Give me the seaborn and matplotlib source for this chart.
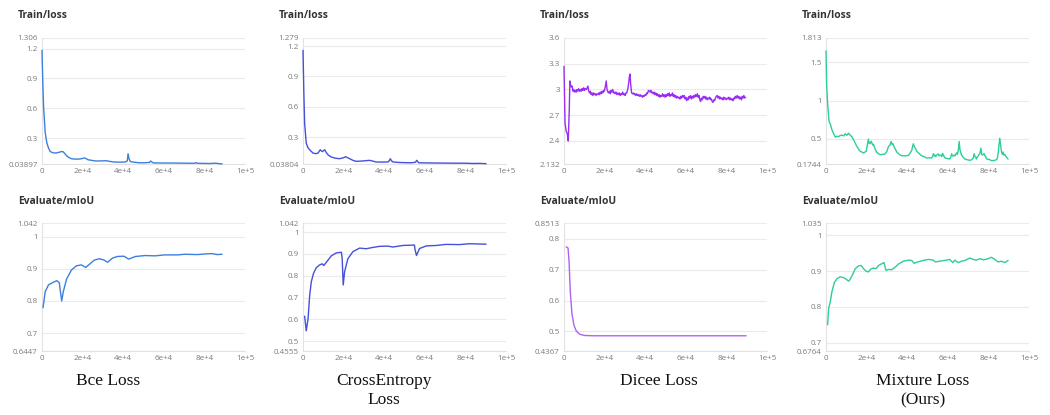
import matplotlib
matplotlib.use("Agg")
import matplotlib.pyplot as plt
import pandas as pd
import seaborn as sns

# ---- Train/loss curves (step, value) ----
bce_step = [0, 400, 800, 1600, 2400, 3200, 4000, 5600, 7000, 8000, 9000, 9700, 10500, 11200,
            12000, 13200, 14500, 16500, 18500, 20000, 21000, 22000, 22600, 24500, 26600, 29000,
            31500, 33500, 35500, 38000, 41000, 42000, 42400, 42900, 43500, 45000, 47600, 50000,
            53000, 53500, 54200, 54800, 58000, 63700, 68000, 72000, 75000, 75800, 76500, 80000,
            83000, 85500, 87000, 88700]
bce_loss = [1.183, 0.85, 0.6, 0.35, 0.25, 0.2, 0.165, 0.15, 0.15, 0.155, 0.16, 0.165, 0.16, 0.145,
            0.125, 0.105, 0.092, 0.088, 0.089, 0.095, 0.1, 0.09, 0.082, 0.075, 0.069, 0.07,
            0.072, 0.065, 0.059, 0.058, 0.059, 0.07, 0.142, 0.09, 0.064, 0.058, 0.052, 0.051,
            0.055, 0.069, 0.058, 0.05, 0.049, 0.049, 0.048, 0.047, 0.046, 0.053, 0.046, 0.045,
            0.044, 0.047, 0.043, 0.04]

ce_step = [0, 400, 800, 1600, 2400, 3300, 4900, 6200, 7400, 8500, 9500, 10200, 10700, 11500,
           12500, 13900, 16000, 18000, 20000, 21000, 22000, 23000, 24500, 26200, 29500, 32800,
           34500, 36000, 39000, 41800, 42500, 43000, 43600, 44300, 47500, 50800, 53500, 55400,
           56000, 56600, 57000, 60000, 64000, 70000, 75400, 80000, 83600, 87000, 90200]
ce_loss = [1.158, 0.75, 0.44, 0.244, 0.2, 0.178, 0.146, 0.14, 0.145, 0.178, 0.16, 0.17, 0.178, 0.15,
           0.125, 0.107, 0.095, 0.09, 0.1, 0.11, 0.1, 0.09, 0.075, 0.064, 0.068, 0.074,
           0.066, 0.058, 0.057, 0.058, 0.07, 0.09, 0.07, 0.058, 0.053, 0.051, 0.05, 0.055,
           0.074, 0.06, 0.05, 0.049, 0.048, 0.047, 0.046, 0.046, 0.043, 0.044, 0.041]

dice_step = [0, 500, 1100, 1600, 2100, 2600, 2900, 3300, 3600, 4000, 4400, 4800, 5200, 5600,
             6000, 6400, 6800, 7200, 7700, 8100, 8500, 8900, 9300, 9700, 10100, 10500, 11000,
             11400, 11800, 12200, 12600, 13000, 13400, 13800, 14200, 14600, 15000, 15400, 15800,
             16200, 16700, 17100, 17500, 17900, 18300, 18700, 19100, 19500, 19900, 20300, 20800,
             21200, 21600, 22000, 22400, 22800, 23200, 23600, 24000, 24400, 24800, 25200, 25600,
             26000, 26500, 26900, 27300, 27700, 28100, 28500, 28900, 29300, 29700, 30100, 30500,
             30900, 31400, 31900, 32200, 32500, 32900, 33300, 33800, 34200, 34600, 35000, 35400,
             35800, 36200, 36600, 37100, 37500, 37900, 38300, 38700, 39100, 39500, 39900, 40300,
             40700, 41100, 41600, 42000, 42400, 42800, 43200, 43600, 44000, 44400, 44800, 45200,
             45600, 46000, 46500, 46900, 47300, 47700, 48100, 48500, 48900, 49300, 49800, 50200,
             50600, 51000, 51400, 51800, 52200, 52600, 53000, 53400, 53800, 54200, 54600, 55000,
             55400, 55900, 56300, 56700, 57100, 57500, 57900, 58300, 58800, 59200, 59600, 60000,
             60400, 60800, 61200, 61600, 62000, 62400, 62800, 63200, 63600, 64000, 64400, 64800,
             65200, 65700, 66100, 66500, 66900, 67300, 67700, 68100, 68600, 69000, 69400, 69800,
             70200, 70600, 71000, 71400, 71800, 72200, 72600, 73000, 73400, 73800, 74200, 74600,
             75000, 75500, 75900, 76300, 76700, 77100, 77500, 77900, 78300, 78700, 79100, 79500,
             79900, 80400, 80800, 81200, 81600, 82000, 82400, 82800, 83200, 83600, 84000, 84400,
             84800, 85300, 85700, 86100, 86500, 86900, 87400, 87800, 88200, 88600, 89000, 89400]
dice_loss = [3.27, 2.61, 2.51, 2.49, 2.40, 2.77, 3.10, 3.05, 3.03, 3.04, 2.98, 3.00, 2.97, 2.99,
             2.97, 3.00, 2.98, 3.01, 2.98, 3.00, 2.98, 3.01, 2.99, 3.02, 2.99, 3.01, 3.00,
             3.02, 3.04, 2.98, 2.96, 2.98, 2.94, 2.96, 2.93, 2.96, 2.94, 2.95, 2.93,
             2.95, 2.94, 2.96, 2.94, 2.97, 2.95, 2.98, 2.96, 2.99, 2.98, 3.03, 3.10,
             3.00, 2.97, 2.96, 2.98, 2.95, 2.99, 2.97, 3.00, 2.96, 2.97, 2.95, 2.97,
             2.94, 2.96, 2.94, 2.96, 2.93, 2.95, 2.94, 2.97, 2.94, 2.95, 2.93, 2.96,
             2.96, 3.00, 3.08, 3.15, 3.18, 3.05, 2.96, 2.95, 2.96, 2.94, 2.95, 2.93,
             2.95, 2.93, 2.94, 2.92, 2.94, 2.92, 2.93, 2.91, 2.93, 2.92, 2.94, 2.93,
             2.96, 2.95, 2.99, 2.98, 2.97, 2.99, 2.96, 2.97, 2.95, 2.97, 2.94, 2.96,
             2.93, 2.95, 2.92, 2.94, 2.91, 2.93, 2.92, 2.95, 2.92, 2.94, 2.91, 2.94,
             2.92, 2.95, 2.93, 2.96, 2.92, 2.94, 2.93, 2.96, 2.92, 2.94, 2.91, 2.93,
             2.90, 2.92, 2.90, 2.91, 2.89, 2.92, 2.90, 2.93, 2.91, 2.93, 2.89, 2.91,
             2.87, 2.90, 2.88, 2.92, 2.90, 2.93, 2.89, 2.92, 2.90, 2.93, 2.91, 2.94,
             2.92, 2.95, 2.91, 2.93, 2.88, 2.86, 2.90, 2.88, 2.92, 2.90, 2.92, 2.89,
             2.91, 2.88, 2.90, 2.89, 2.91, 2.88, 2.89, 2.86, 2.85, 2.88, 2.87, 2.90,
             2.92, 2.93, 2.90, 2.92, 2.89, 2.91, 2.89, 2.90, 2.88, 2.91, 2.89, 2.90,
             2.88, 2.90, 2.89, 2.91, 2.88, 2.90, 2.88, 2.89, 2.87, 2.90, 2.89, 2.92,
             2.90, 2.93, 2.90, 2.92, 2.89, 2.91, 2.88, 2.92, 2.90, 2.93, 2.90, 2.91]

mix_step = [0, 300, 800, 1500, 2100, 2900, 3800, 4600, 5400, 6200, 7000, 7900, 8700, 9500,
            10300, 11100, 11900, 12700, 13600, 14400, 15200, 16000, 16900, 17700, 18500, 19200,
            19800, 20200, 20500, 20900, 21300, 21800, 22200, 22600, 23000, 23400, 24200, 25000,
            25800, 26700, 27900, 29100, 30000, 30800, 31500, 32100, 32500, 32900, 33700, 34900,
            36100, 37300, 38900, 40600, 41500, 42200, 43000, 43500, 44000, 44700, 45900, 47100,
            48300, 49600, 50800, 52000, 52500, 52900, 53300, 53700, 54100, 54500, 54900, 55300,
            55700, 56200, 56600, 57000, 57400, 57800, 58200, 58600, 59800, 61000, 61500, 61900,
            62300, 62700, 63100, 63500, 63900, 64300, 64700, 65100, 65600, 66000, 66400, 66800,
            67600, 68400, 69600, 70900, 71700, 72500, 73000, 73400, 73800, 74100, 74600, 75000,
            75400, 75800, 76300, 76700, 77100, 77500, 77900, 78300, 78700, 79100, 80300, 81500,
            82700, 84000, 84400, 84800, 85200, 85600, 86000, 86400, 86800, 87200, 87600, 88000,
            88500, 89000, 89700]
mix_loss = [1.645, 1.22, 0.96, 0.726, 0.696, 0.62, 0.567, 0.524, 0.535, 0.53, 0.545, 0.55, 0.54, 0.567,
            0.548, 0.575, 0.55, 0.53, 0.49, 0.445, 0.403, 0.37, 0.338, 0.33, 0.317, 0.33,
            0.34, 0.40, 0.446, 0.498, 0.44, 0.44, 0.47, 0.45, 0.42, 0.43, 0.37, 0.325,
            0.31, 0.295, 0.30, 0.305, 0.34, 0.403, 0.42, 0.467, 0.43, 0.44, 0.39, 0.33,
            0.30, 0.282, 0.28, 0.285, 0.32, 0.35, 0.437, 0.40, 0.38, 0.34, 0.31, 0.282,
            0.27, 0.252, 0.255, 0.252, 0.27, 0.308, 0.28, 0.29, 0.27, 0.29, 0.30, 0.305,
            0.28, 0.29, 0.29, 0.27, 0.313, 0.29, 0.27, 0.252, 0.245, 0.239, 0.27, 0.308,
            0.28, 0.278, 0.29, 0.28, 0.30, 0.32, 0.30, 0.34, 0.467, 0.36, 0.32, 0.29,
            0.26, 0.239, 0.23, 0.222, 0.23, 0.252, 0.308, 0.27, 0.26, 0.239, 0.27, 0.28,
            0.30, 0.308, 0.381, 0.30, 0.29, 0.30, 0.308, 0.28, 0.27, 0.239, 0.235, 0.218,
            0.22, 0.23, 0.25, 0.308, 0.42, 0.51, 0.43, 0.34, 0.30, 0.33, 0.291, 0.30,
            0.278, 0.26, 0.239]

# ---- Evaluate/mIoU curves ----
bce_eval_step = [500, 1600, 3200, 5600, 7300, 8500, 9700, 10500, 12100, 14500, 16900, 19400, 20200,
                 21500, 23400, 25800, 28200, 30600, 32300, 34700, 37100, 40300, 42700, 46000, 50800,
                 55600, 60500, 66900, 70200, 76600, 80600, 83900, 86300, 88700]
bce_miou = [0.779, 0.829, 0.85, 0.858, 0.863, 0.857, 0.80, 0.829, 0.868, 0.896, 0.909, 0.912, 0.909,
            0.904, 0.914, 0.927, 0.931, 0.927, 0.920, 0.933, 0.938, 0.939, 0.930, 0.938, 0.941,
            0.940, 0.943, 0.943, 0.945, 0.944, 0.946, 0.947, 0.944, 0.945]

ce_eval_step = [800, 1600, 2500, 3300, 4100, 5200, 6600, 8200, 9500, 10200, 11500, 13900, 16400,
                18900, 19300, 19800, 20500, 22100, 24600, 27900, 31100, 34400, 37700, 41800, 44300,
                49200, 54900, 55200, 55900, 57400, 60700, 65600, 70500, 77000, 82000, 90200]
ce_miou = [0.615, 0.548, 0.604, 0.712, 0.773, 0.812, 0.838, 0.85, 0.855, 0.847, 0.862, 0.891, 0.905,
           0.908, 0.88, 0.758, 0.819, 0.878, 0.911, 0.927, 0.924, 0.93, 0.935, 0.936, 0.932,
           0.939, 0.941, 0.92, 0.893, 0.925, 0.937, 0.939, 0.944, 0.943, 0.947, 0.945]

dice_eval_step = [1100, 2000, 2500, 3100, 3900, 4900, 6000, 7700, 10100, 14200, 30000, 50000, 70000, 89700]
dice_miou = [0.774, 0.77, 0.726, 0.629, 0.558, 0.52, 0.502, 0.491, 0.487, 0.486, 0.486, 0.486, 0.486, 0.486]

mix_eval_step = [800, 1300, 2100, 2900, 4100, 5400, 7000, 8700, 10300, 11100, 11900, 13300, 14400,
                 16000, 17300, 18500, 19800, 20900, 22100, 23400, 24700, 25900, 27500, 28600, 29300,
                 29600, 30800, 32400, 34000, 35700, 38100, 40600, 42200, 43400, 44700, 47100, 50400,
                 52900, 53700, 56100, 59400, 61000, 62400, 63500, 65100, 66800, 68400, 70900, 72500,
                 74100, 75800, 77700, 79900, 81500, 83100, 84800, 86400, 88000, 89700]
mix_miou = [0.75, 0.795, 0.814, 0.842, 0.868, 0.879, 0.884, 0.882, 0.876, 0.872, 0.877, 0.893, 0.907,
            0.915, 0.916, 0.907, 0.90, 0.898, 0.906, 0.909, 0.907, 0.916, 0.921, 0.924, 0.907,
            0.902, 0.905, 0.904, 0.911, 0.920, 0.928, 0.931, 0.930, 0.922, 0.925, 0.929, 0.933,
            0.931, 0.926, 0.928, 0.931, 0.933, 0.924, 0.931, 0.924, 0.928, 0.930, 0.937, 0.933,
            0.931, 0.935, 0.932, 0.935, 0.939, 0.933, 0.926, 0.928, 0.924, 0.93]

# ---- axis setup per panel ----
x_ticks = [0, 20000, 40000, 60000, 80000, 100000]
x_labels = ["0", "2e+4", "4e+4", "6e+4", "8e+4", "1e+5"]

top_lims = [(0.03897, 1.306), (0.03804, 1.279), (2.132, 3.6), (0.1744, 1.813)]
top_ticks = [[0.3, 0.6, 0.9, 1.2], [0.3, 0.6, 0.9, 1.2], [2.4, 2.7, 3, 3.3], [0.5, 1, 1.5]]
bot_lims = [(0.6447, 1.042), (0.4555, 1.042), (0.4367, 0.8513), (0.6764, 1.035)]
bot_ticks = [[0.7, 0.8, 0.9, 1], [0.5, 0.6, 0.7, 0.8, 0.9, 1], [0.5, 0.6, 0.7, 0.8], [0.7, 0.8, 0.9, 1]]

train_colors = ["#3c7fdc", "#4650d8", "#9a2ef0", "#2ccf95"]
eval_colors = ["#3c7fdc", "#4650d8", "#ae63f0", "#2ccf95"]
captions = ["Bce Loss", "CrossEntropy\nLoss", "Dicee Loss", "Mixture Loss\n(Ours)"]
caption_x = [108, 384, 659, 923]

sns.set_style("white")
plt.rcParams["font.family"] = ["Open Sans", "DejaVu Sans"]

W, H = 1050, 415
fig = plt.figure(figsize=(W / 100, H / 100), dpi=100)

col_left = [42, 303, 564, 826]
col_w = 203


def style_axis(ax, lims, ticks):
    lo, hi = lims
    yt = [lo] + ticks + ([hi] if hi not in ticks else [])
    ax.set_xlim(0, 100000)
    ax.set_ylim(lo, hi)
    ax.set_xticks(x_ticks)
    ax.set_xticklabels(x_labels)
    ax.set_yticks(yt)
    ax.set_yticklabels(["%g" % v for v in yt])
    ax.grid(axis="y", color="#ebebeb", linewidth=0.8)
    ax.grid(axis="x", visible=False)
    for s in ["top", "right"]:
        ax.spines[s].set_visible(False)
    for s in ["left", "bottom"]:
        ax.spines[s].set_color("#e2e2e2")
        ax.spines[s].set_linewidth(0.8)
        ax.spines[s].set_zorder(1)
    ax.tick_params(length=0, labelsize=5.8, labelcolor="#7a7a7a", pad=3)
    ax.set_xlabel("")
    ax.set_ylabel("")


train_sets = [(bce_step, bce_loss), (ce_step, ce_loss), (dice_step, dice_loss), (mix_step, mix_loss)]
eval_sets = [(bce_eval_step, bce_miou), (ce_eval_step, ce_miou),
             (dice_eval_step, dice_miou), (mix_eval_step, mix_miou)]

for i in range(4):
    # top row: Train/loss
    ax = fig.add_axes([col_left[i] / W, 1 - 164 / H, col_w / W, 126 / H])
    df = pd.DataFrame({"step": train_sets[i][0], "value": train_sets[i][1]})
    sns.lineplot(data=df, x="step", y="value", ax=ax, color=train_colors[i],
                 linewidth=1.0, zorder=5, clip_on=False)
    style_axis(ax, top_lims[i], top_ticks[i])
    fig.text((col_left[i] - 24) / W, 1 - 15 / H, "Train/loss", fontsize=7.4,
             fontweight="bold", color="#333333", va="center", ha="left")

    # bottom row: Evaluate/mIoU
    ax = fig.add_axes([col_left[i] / W, 1 - 351 / H, col_w / W, 128 / H])
    df = pd.DataFrame({"step": eval_sets[i][0], "value": eval_sets[i][1]})
    sns.lineplot(data=df, x="step", y="value", ax=ax, color=eval_colors[i],
                 linewidth=1.0, zorder=5)
    style_axis(ax, bot_lims[i], bot_ticks[i])
    fig.text((col_left[i] - 24) / W, 1 - 201 / H, "Evaluate/mIoU", fontsize=7.4,
             fontweight="bold", color="#333333", va="center", ha="left")

    fig.text(caption_x[i] / W, 1 - 373 / H, captions[i], fontsize=12.5,
             family="Liberation Serif", color="#111111", ha="center", va="top",
             linespacing=1.25)

fig.savefig("out.png", dpi=100, facecolor="white")
